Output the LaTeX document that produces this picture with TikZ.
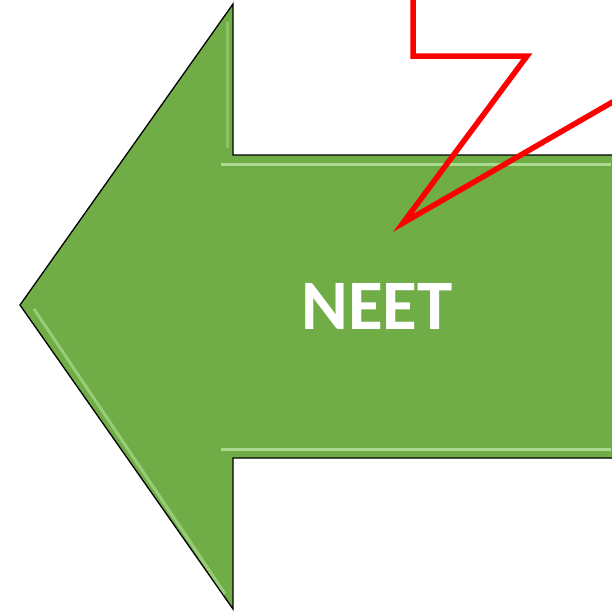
\documentclass[tikz,border=0pt]{standalone}
\usepackage{fontspec}
\setmainfont{Carlito}
\definecolor{arrowgreen}{HTML}{70AD47}
\definecolor{bevellight}{HTML}{B5E29A}
\definecolor{bolt}{HTML}{FF0000}
\begin{document}
\begin{tikzpicture}[x=1pt,y=-1pt,
  arrowbody/.style={fill=arrowgreen,draw=black,line width=1.3pt,line join=miter},
  bevel/.style={draw=bevellight,line width=3pt,opacity=0.85},
  boltline/.style={draw=bolt,line width=5.5pt,line join=miter},
  label/.style={text=white,font=\bfseries\fontsize{71}{71}\selectfont,inner sep=0pt}]
\useasboundingbox (0,0) rectangle (611,613);
\fill[white] (0,0) rectangle (611,613);
\coordinate (tip) at (20,305);
\coordinate (ht) at (233,4);
\coordinate (hb) at (233,609);
\coordinate (st) at (233,155);
\coordinate (sb) at (233,458);
\coordinate (se1) at (615,155);
\coordinate (se2) at (615,458);
\draw[arrowbody] (tip) -- (ht) -- (st) -- (se1) -- (se2) -- (sb) -- (hb) -- cycle;
% bevel highlights
\draw[bevel] (221,164) -- (611,164);
\draw[bevel] (221,449) -- (611,449);
\draw[bevel,opacity=0.6] (34,309) -- (225,594);
\draw[bevel,opacity=0.4] (227,22) -- (227,148);
\node[label] (neet) at (377,306) {NEET};
% lightning bolt
\coordinate (b1) at (413,-5);
\coordinate (b2) at (413,56);
\coordinate (b3) at (527,56);
\coordinate (b4) at (403,223);
\coordinate (b5) at (616,100);
\draw[boltline] (b1) -- (b2) -- (b3) -- (b4) -- (b5);
\end{tikzpicture}
\end{document}
